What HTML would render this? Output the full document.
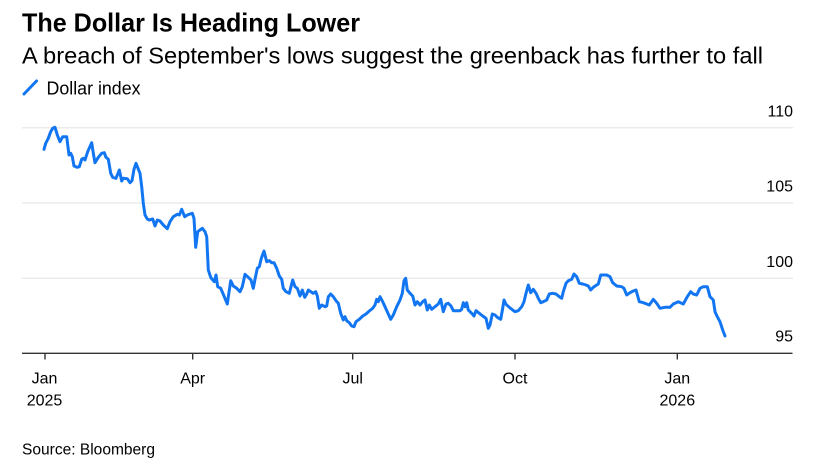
<!DOCTYPE html>
<html>
<head>
<meta charset="utf-8">
<style>
html,body{margin:0;padding:0;background:#fff;}
svg{display:block;}
text{font-family:"Liberation Sans",Arial,sans-serif;fill:#000;}
</style>
</head>
<body>
<svg width="833" height="476" viewBox="0 0 833 476" xmlns="http://www.w3.org/2000/svg">
  <rect width="833" height="476" fill="#fff"/>
  <!-- Title -->
  <text x="22" y="31.5" font-size="26" font-weight="bold" textLength="338" lengthAdjust="spacingAndGlyphs">The Dollar Is Heading Lower</text>
  <text x="22" y="63.5" font-size="23.5" textLength="741" lengthAdjust="spacingAndGlyphs">A breach of September's lows suggest the greenback has further to fall</text>
  <!-- Legend -->
  <line x1="24" y1="94" x2="36.5" y2="81" stroke="#1276f2" stroke-width="3" stroke-linecap="round"/>
  <text x="46.5" y="94.3" font-size="18" textLength="94" lengthAdjust="spacingAndGlyphs">Dollar index</text>

  <!-- Gridlines -->
  <g stroke="#ebebeb" stroke-width="1.5">
    <line x1="22" y1="127.7" x2="793" y2="127.7"/>
    <line x1="22" y1="203" x2="793" y2="203"/>
    <line x1="22" y1="278.3" x2="793" y2="278.3"/>
  </g>
  <!-- Y labels -->
  <g font-size="16" text-anchor="end">
    <text x="793" y="116.7">110</text>
    <text x="793" y="191.7">105</text>
    <text x="793" y="267.2">100</text>
    <text x="793" y="341.7">95</text>
  </g>

  <!-- Axis -->
  <line x1="22" y1="353.3" x2="792.5" y2="353.3" stroke="#333" stroke-width="1.4"/>
  <g stroke="#333" stroke-width="1.4">
    <line x1="45" y1="353.3" x2="45" y2="359.5"/>
    <line x1="192.7" y1="353.3" x2="192.7" y2="359.5"/>
    <line x1="352.7" y1="353.3" x2="352.7" y2="359.5"/>
    <line x1="515" y1="353.3" x2="515" y2="359.5"/>
    <line x1="677.3" y1="353.3" x2="677.3" y2="359.5"/>
  </g>
  <g font-size="16" text-anchor="middle">
    <text x="44.5" y="383.3">Jan</text>
    <text x="44.5" y="405.5">2025</text>
    <text x="192.7" y="383.3">Apr</text>
    <text x="352.7" y="383.3">Jul</text>
    <text x="515" y="383.3">Oct</text>
    <text x="677.3" y="383.3">Jan</text>
    <text x="677.3" y="405.5">2026</text>
  </g>

  <!-- Series -->
  <polyline fill="none" stroke="#1276f2" stroke-width="3" stroke-linejoin="round" stroke-linecap="round" points="
44,149.3 45.7,143.3 48.3,138.3 50.7,131.7 52.7,128.3 55,127.3 57.3,135 60,141.7 62.7,136.7 66.7,136.7 69,155 70.7,153.3 72.3,156.7 74,166 77.3,167.3 79.3,166.7 81.7,159.3 83.3,158.3 85,160 87.7,151.7 91.7,142.7 93.3,153.3 95,162.7 98.3,157.3 101.7,153.3 104.3,152.7 106,157.3 108.3,159.3 110.7,173.3 112.7,177.3 116,178.3 117.3,175 119.3,170 121.7,181 123.3,178.3 127.3,178.7 130,182.7 132,180.7 134,169.3 136,163.3 140,173.3 141.7,186.7 143.3,203.3 145,215 147.3,219 149.3,220 152.7,219 155,226 157.3,220 160,221 163.3,225 167.3,228.7 170,221.7 173.3,216.7 177.3,214.3 179.3,215 181.7,209.3
184.7,216.7 187.3,215 190,214 192.3,213.3 194,218.3 195.7,247.3 197.7,231.7 200,230 202.3,228.3 205,231.7 206.7,236.7 208.3,270 210.7,277.3 212.7,280 214.3,281.7 216,275 217.7,286.7 220.7,288.3 224,296 227.3,304 230.7,280.7 233.3,286 236.7,288.3 240,291.7 242.3,286.7 245,274.3 248.3,277.3 251,280 253.3,288.3 255,279.3 257.3,268.3 259.3,266.7 261.3,258.3 264,251 266.7,261.7 269.3,260.7 271.7,262.7 274,262.7 276.7,268.3 279.3,276 281.7,279.3 283.3,288.3 286,291.7 289.3,293.3 292.7,280 295,286.7 297.3,288.3 300,296 302.3,290 304.7,297.3 306.7,294 308.3,290 310.7,291.7 313.3,293.3 315.7,291.7 317.3,296 319.3,308.3 321.7,305 325,306.7
326.7,306 328.3,296.7 330.7,294 333.3,296.7 336,300.7 338.3,303.3 340.7,313.3 343.3,320 345,316.7 346.7,320.7 349.3,322.7 351.7,326 354,326.7 356,321.7 359.3,319.3 362.7,316 366,314 369.3,311 372.7,308.3 375,305 376.7,299.3 378.3,301.7 380,296.7 382.7,301.7 385,306.7 387.7,312.7 390.7,319.3 393.3,315 396.7,306.7 400,300 402.3,293.3 404,280.7 405.7,278.3 407.3,290 410,293.3 412.7,296 415,305 417.3,301.7 420,305 422.7,301.7 425,300 427.3,310 429.3,305 431.7,309.3 435,306.7 438.3,304 440.7,299.3 443.3,311.7 446,304 448.3,303.3 451,306 453.3,310.7 457.3,310.7 460,310.7
461.7,309.3 463.3,302.7 465,306.7 466.7,302.7 468.3,310 471.7,313.3 474,316 476,310.7 479.3,313.3 482.7,316 486,318.3 488.3,328.3 490,325 492.3,314 495,315 497.3,317.3 500.7,319.3 502.7,308.3 504,300 506,304.3 509.3,307.3 512.7,310 515,311.7 518.3,310.7 521.7,306.7 524,301.7 526,293.3 528.3,285 530.7,292.7 533.3,289.3 536,293.3 538.3,298.3 540.7,302.7 543.3,301.7 546.7,300 549.3,294 552.7,293.3 556,294 559.3,296.7 561.7,298.3 563.3,291.7 566,283.3 568.3,280.7 571.7,279.3 574,274 576.7,276.7 579.3,283.3 582.7,284 586,285 588.3,286 590.7,290 593.3,287.3 596.7,285 598.3,284 600.7,275 604,275 606.7,275
610,276.7 612.7,282.7 616.7,286 621.7,286.7 624,288.3 626.7,295 630,292.7 633.3,291 636,290 639.3,301.7 643.3,302.7 649.3,305 653.3,299.3 656.7,303.3 660,308.3 665,307.3 670,307.3 673.3,304 678.3,301.7 683.3,304 687.3,296.7 690.7,291.7 693.3,294 696.7,295 700,288.3 703.3,286.7 707.3,286.7 710,296.7 713.3,300 715,311.7 717.3,316.7 720,321.7 722.7,330 725,336"/>

  <!-- Source -->
  <text x="22" y="454.3" font-size="15.5" textLength="133" lengthAdjust="spacingAndGlyphs">Source: Bloomberg</text>
</svg>
</body>
</html>
